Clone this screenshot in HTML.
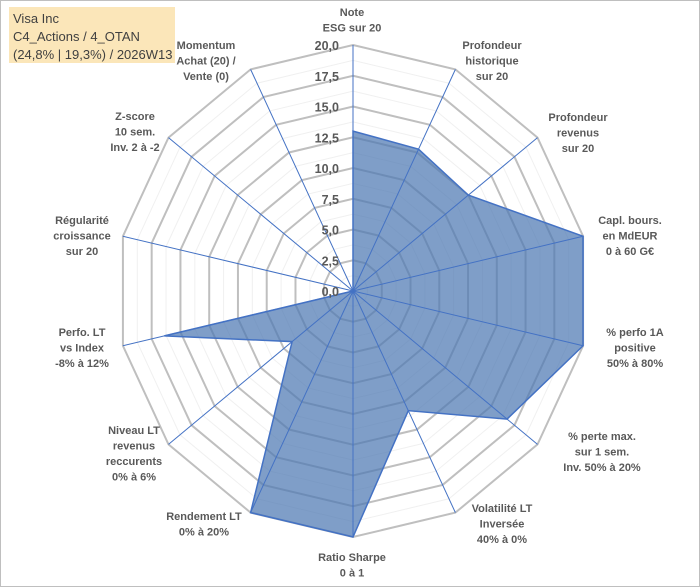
<!DOCTYPE html>
<html><head><meta charset="utf-8"><style>
body{margin:0;background:#fff}
svg{display:block;font-family:"Liberation Sans",sans-serif}
.lab{font-size:11px;font-weight:bold;fill:#595959;text-anchor:middle}
.tick{font-size:12.5px;font-weight:bold;fill:#595959;text-anchor:end}
</style></head><body>
<svg id="c" width="700" height="587">
<rect x="0.5" y="0.5" width="699" height="586" fill="#fff" stroke="#bfbfbf"/>
<rect x="9" y="7" width="166" height="56" fill="#fbe6b9"/>
<text x="13" y="23" font-size="13" fill="#404040">Visa Inc</text>
<text x="13" y="41" font-size="13" fill="#404040">C4_Actions / 4_OTAN</text>
<text x="13" y="59" font-size="13" fill="#404040">(24,8% | 19,3%) / 2026W13</text>
<g id="grid"></g><g id="series"></g><g id="axes"></g><g id="ticks"></g><g id="labels"></g>
</svg>
<script>
const categories=["Note|ESG sur 20","Profondeur|historique|sur 20","Profondeur|revenus|sur 20","Capl. bours.|en MdEUR|0 à 60 G€","% perfo 1A|positive|50% à 80%","% perte max.|sur 1 sem.|Inv. 50% à 20%","Volatilité LT|Inversée|40% à 0%","Ratio Sharpe|0 à 1","Rendement LT|0% à 20%","Niveau LT|revenus|reccurents|0% à 6%","Perfo. LT|vs Index|-8% à 12%","Régularité|croissance|sur 20","Z-score|10 sem.|Inv. 2 à -2","Momentum|Achat (20) /|Vente (0)"];
const values=[13,12.8,12.5,20,20,16.7,10.8,20,20,6.6,16.4,0,0,0];
const tickLabels=["0,0","2,5","5,0","7,5","10,0","12,5","15,0","17,5","20,0"];
const labelPos=[[352,16],[492,49],[578,121],[630,224],[635,336],[602,440],[502,512],[352,561],[204,520],[134,434],[82,336],[82,224],[135,120],[206,49]];
const NS="http://www.w3.org/2000/svg",cx=353,cy=291,RX=236,RY=246,MAX=20,N=categories.length;
function pt(i,v){const a=i*2*Math.PI/N;return [cx+Math.sin(a)*RX*v/MAX,cy-Math.cos(a)*RY*v/MAX];}
function mk(tag,at,parent){const e=document.createElementNS(NS,tag);for(const k in at)e.setAttribute(k,at[k]);document.getElementById(parent).appendChild(e);return e;}
for(let s=1;s<=16;s++){const v=s*1.25;const p=categories.map((_,i)=>pt(i,v).join(',')).join(' ');
 const e=mk('polygon',{points:p,fill:'none',stroke:s%2?'#f0f0f0':'#bfbfbf','stroke-width':s%2?1:2},'grid');
 
 }
const sp=mk('polygon',{points:values.map((v,i)=>pt(i,v).join(',')).join(' '),fill:'#4d79b3','fill-opacity':0.72,stroke:'#4472c4','stroke-width':1.5},'series');


categories.forEach((c,i)=>{const [x,y]=pt(i,MAX);const l=mk('line',{x1:cx,y1:cy,x2:x,y2:y,stroke:'#4472c4','stroke-width':1},'axes');
 
 
 const t=mk('text',{class:'lab',x:labelPos[i][0],y:labelPos[i][1]},'labels');
 
 
 c.split('|').forEach((ln,k)=>{const ts=document.createElementNS(NS,'tspan');ts.setAttribute('x',labelPos[i][0]);ts.setAttribute('dy',k?15.5:0);ts.textContent=ln;t.appendChild(ts);});});
tickLabels.forEach((tl,k)=>{const y=cy-RY*(k*2.5)/MAX;const t=mk('text',{class:'tick',x:339,y:y+5},'ticks');t.textContent=tl;
 
 });
</script>
</body></html>
